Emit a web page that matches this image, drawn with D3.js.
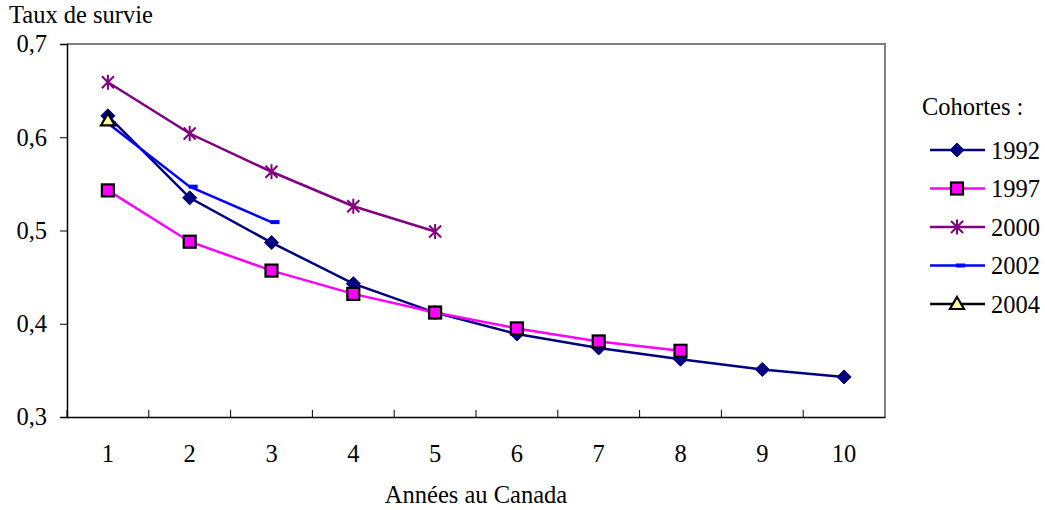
<!DOCTYPE html>
<html>
<head>
<meta charset="utf-8">
<script src="https://cdn.jsdelivr.net/npm/d3@7"></script>
<style>
  body { margin: 0; background: #fff; }
  text { font-family: "Liberation Serif", "Times New Roman", serif; fill: #000; }
</style>
</head>
<body>
<script>
// categories and series values
var years = [1, 2, 3, 4, 5, 6, 7, 8, 9, 10];
var yTicks = [0.3, 0.4, 0.5, 0.6, 0.7];
var cohorts = ["1992", "1997", "2000", "2002", "2004"];
var s1992 = [0.623, 0.535, 0.487, 0.443, 0.412, 0.389, 0.374, 0.362, 0.351, 0.343];
var s1997 = [0.543, 0.488, 0.457, 0.432, 0.412, 0.395, 0.381, 0.371];
var s2000 = [0.659, 0.604, 0.563, 0.526, 0.499];
var s2002 = [0.615, 0.547, 0.509];
var s2004 = [0.618];

var series = [
  {name: cohorts[0], values: s1992, color: "#000080", marker: "diamond"},
  {name: cohorts[1], values: s1997, color: "#ff00ff", marker: "square"},
  {name: cohorts[2], values: s2000, color: "#800080", marker: "star"},
  {name: cohorts[3], values: s2002, color: "#0000ff", marker: "dash"},
  {name: cohorts[4], values: s2004, color: "#000000", marker: "triangle"}
];

var W = 1045, H = 510;
var margin = {top: 44, right: 160, bottom: 93, left: 67};
var fs = 24.5;

var svg = d3.select("body").append("svg")
    .attr("width", W)
    .attr("height", H);

var x = d3.scaleBand()
    .domain(years)
    .range([margin.left, W - margin.right]);
var y = d3.scaleLinear()
    .domain([0.3, 0.7])
    .range([H - margin.bottom, margin.top]);

var cx = function(d) { return x(d) + x.bandwidth() / 2; };
var comma = d3.formatLocale({decimal: ",", thousands: " ", grouping: [3], currency: ["", ""]}).format(".1f");

// frame: gray top / right, black axes
svg.append("path")
    .attr("d", "M" + x.range()[0] + "," + y(0.7) + "H" + x.range()[1] + "V" + y(0.3))
    .attr("fill", "none")
    .attr("stroke", "#808080")
    .attr("stroke-width", 2);

var yAxis = svg.append("g")
    .attr("transform", "translate(" + margin.left + ",0)")
    .call(d3.axisLeft(y).tickValues(yTicks).tickFormat(comma).tickSize(7).tickPadding(13));
yAxis.selectAll("text").style("font-size", fs + "px").attr("dy", "0.32em");

// x axis: labels at centres, ticks at category boundaries pointing inward
var xAxis = svg.append("g")
    .attr("transform", "translate(0," + y(0.3) + ")")
    .call(d3.axisBottom(x).tickSize(0).tickPadding(28));
xAxis.selectAll("text").style("font-size", fs + "px");
xAxis.selectAll(".tick")
  .append("line")
    .attr("x1", -x.bandwidth() / 2)
    .attr("x2", -x.bandwidth() / 2)
    .attr("y2", -7)
    .attr("stroke", "#000");
svg.selectAll(".domain").attr("stroke", "#000").attr("stroke-width", 1.5);
yAxis.selectAll(".tick line").attr("stroke", "#000");

svg.append("text")
    .attr("x", 9)
    .attr("y", 23)
    .style("font-size", fs + "px")
    .text("Taux de survie");

svg.append("text")
    .attr("x", (x.range()[0] + x.range()[1]) / 2)
    .attr("y", 503)
    .attr("text-anchor", "middle")
    .style("font-size", fs + "px")
    .text("Années au Canada");

function drawMarker(g, type, color) {
  if (type == "diamond") {
    g.append("path").attr("d", "M0,-7L7,0L0,7L-7,0Z").attr("fill", color).attr("stroke", color);
  } else if (type == "square") {
    g.append("rect").attr("x", -6).attr("y", -6).attr("width", 12).attr("height", 12)
      .attr("fill", color).attr("stroke", "#000").attr("stroke-width", 2.2);
  } else if (type == "star") {
    g.append("path").attr("d", "M-6,-6L6,6M-6,6L6,-6M0,-7.5V7.5")
      .attr("stroke", color).attr("stroke-width", 2).attr("fill", "none");
  } else if (type == "dash") {
    g.append("rect").attr("x", -1).attr("y", -2).attr("width", 9).attr("height", 4).attr("fill", color);
  } else if (type == "triangle") {
    g.append("path").attr("d", "M0,-7L7,5L-7,5Z")
      .attr("fill", "#ffff99").attr("stroke", "#000").attr("stroke-width", 2.2);
  }
}

var line = d3.line()
    .x(function(d, i) { return cx(years[i]); })
    .y(function(d) { return y(d); });

series.forEach(function(s) {
  var g = svg.append("g");
  g.append("path")
      .attr("d", line(s.values))
      .attr("fill", "none")
      .attr("stroke", s.color)
      .attr("stroke-width", 2.5);
  s.values.forEach(function(v, i) {
    var m = g.append("g").attr("transform", "translate(" + cx(years[i]) + "," + y(v) + ")");
    drawMarker(m, s.marker, s.color);
  });
});

// legend
var legend = svg.append("g").attr("transform", "translate(922,0)");
legend.append("text")
    .attr("y", 115)
    .style("font-size", fs + "px")
    .text("Cohortes :");
series.forEach(function(s, i) {
  var ly = 150 + i * 38.5;
  var row = legend.append("g").attr("transform", "translate(0," + ly + ")");
  row.append("line").attr("x1", 8).attr("x2", 63)
      .attr("stroke", s.color).attr("stroke-width", 2.5);
  drawMarker(row.append("g").attr("transform", "translate(35,0)"), s.marker, s.color);
  row.append("text").attr("x", 69).attr("y", 8.5)
      .style("font-size", fs + "px")
      .text(s.name);
});
</script>
</body>
</html>
